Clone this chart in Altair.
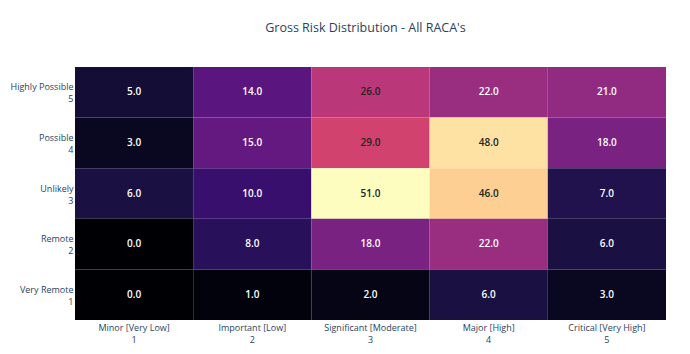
import altair as alt
import pandas as pd

x_labels = ["Minor [Very Low]|1", "Important [Low]|2", "Significant [Moderate]|3", "Major [High]|4", "Critical [Very High]|5"]
y_labels = ["Highly Possible|5", "Possible|4", "Unlikely|3", "Remote|2", "Very Remote|1"]
values = [
    [5, 14, 26, 22, 21],
    [3, 15, 29, 48, 18],
    [6, 10, 51, 46, 7],
    [0, 8, 18, 22, 6],
    [0, 1, 2, 6, 3],
]

rows = []
for i, yl in enumerate(y_labels):
    for j, xl in enumerate(x_labels):
        rows.append({"x": xl, "y": yl, "v": values[i][j], "t": f"{values[i][j]:.1f}"})
df = pd.DataFrame(rows)

FONT = "Open Sans"
TXT = "#2a3f5f"

base = alt.Chart(df).encode(
    x=alt.X("x:N", sort=x_labels, title=None,
            axis=alt.Axis(labelExpr="split(datum.label, '|')", labelAngle=0, ticks=False,
                          domain=False, labelPadding=3, labelFont=FONT, labelFontSize=9,
                          labelColor=TXT, labelLineHeight=12.5, labelBaseline="top")),
    y=alt.Y("y:N", sort=y_labels, title=None,
            axis=alt.Axis(labelExpr="split(datum.label, '|')", ticks=False, domain=False,
                          labelPadding=2, labelFont=FONT, labelFontSize=9, labelColor=TXT,
                          labelLineHeight=12, labelBaseline="middle", labelAlign="right",
                          labelOffset=-5)),
)

rect = base.mark_rect().encode(
    color=alt.Color("v:Q", scale=alt.Scale(scheme="magma", domain=[0, 51]), legend=None)
)
text = base.mark_text(font=FONT, fontSize=10, fontWeight=600).encode(
    text="t:N",
    color=alt.condition("datum.v >= 24", alt.value("#222222"), alt.value("#ffffff")),
)

chart = (rect + text).properties(
    width=591, height=253,
    title=alt.TitleParams("Gross Risk Distribution - All RACA's", font=FONT, fontSize=12.5,
                          fontWeight="normal", color=TXT, anchor="middle", offset=33, dx=-5),
    autosize=alt.AutoSizeParams(type="none"),
    padding={"left": 75, "top": 67, "right": 24, "bottom": 34},
).configure_view(stroke=None).configure_scale(bandPaddingInner=0, bandPaddingOuter=0)

chart.save("out.html", embed_options={"renderer": "svg", "actions": False})
